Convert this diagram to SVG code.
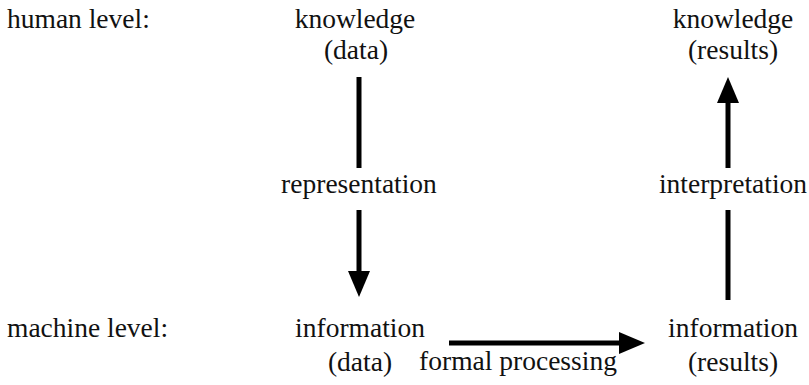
<svg xmlns="http://www.w3.org/2000/svg" width="809" height="385" viewBox="0 0 809 385">
<defs>
<style>
text{font-family:"Liberation Serif","DejaVu Serif",serif;font-size:27.5px;fill:#111}
.c{text-anchor:middle}
.ln{stroke:#000;stroke-width:5;fill:none}
.hd{fill:#000}
</style>
</defs>
<rect width="809" height="385" fill="#fff"/>
<g id="label-human"><text x="7" y="28">human level:</text></g>
<g id="label-machine"><text x="7" y="337">machine level:</text></g>
<g id="knowledge-data"><text class="c" x="355" y="28">knowledge</text><text class="c" x="356" y="59">(data)</text></g>
<g id="knowledge-results"><text class="c" x="733" y="28">knowledge</text><text class="c" x="733" y="59">(results)</text></g>
<g id="information-data"><text class="c" x="360" y="337">information</text><text class="c" x="360" y="371">(data)</text></g>
<g id="information-results"><text class="c" x="733" y="337">information</text><text class="c" x="733" y="371">(results)</text></g>
<g id="connectors">
<line class="ln" x1="359" y1="77" x2="359" y2="168"/>
<line class="ln" x1="359" y1="210" x2="359" y2="272"/>
<polygon class="hd" points="348,271 370,271 359,297"/>
<text class="c" x="359" y="193">representation</text>
<line class="ln" x1="728" y1="300" x2="728" y2="210"/>
<line class="ln" x1="728" y1="168" x2="728" y2="102"/>
<polygon class="hd" points="717,103 739,103 728,77"/>
<text class="c" x="733" y="193">interpretation</text>
<line class="ln" x1="449" y1="343" x2="620" y2="343"/>
<polygon class="hd" points="619,332 619,354 645,343"/>
<text class="c" x="518" y="370">formal processing</text>
</g>
</svg>
